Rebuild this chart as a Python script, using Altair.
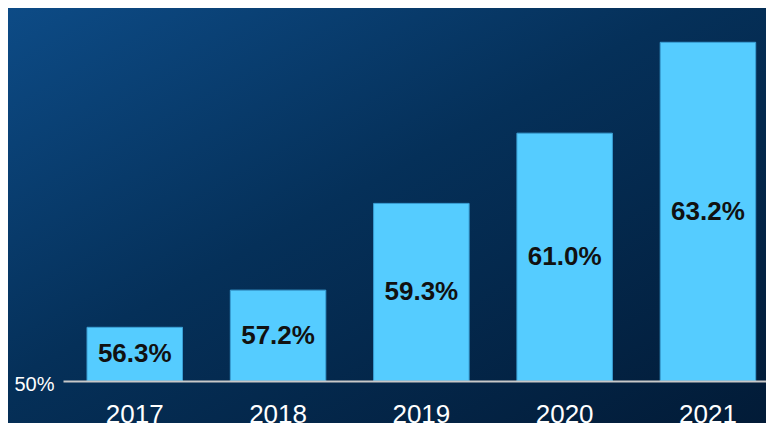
import altair as alt
import pandas as pd

# ---- data ----
years = ["2017", "2018", "2019", "2020", "2021"]
shares = [56.3, 57.2, 59.3, 61.0, 63.2]
y_floor = 55.0          # where the bars start (axis baseline)
y_ceiling = 64.03       # top of the plot area
y_floor_label = "50%"   # text printed at the baseline

df = pd.DataFrame({"year": years, "share": shares})

W, H = 703, 373
PAD = {"left": 55, "top": 0, "right": 0, "bottom": 42}
FONT = "Liberation Sans"

x_scale = alt.Scale(domain=years, paddingInner=0.3336, paddingOuter=0.1197, align=0.70)
y_scale = alt.Scale(domain=[y_floor, y_ceiling], zero=False, nice=False)

gradient = alt.LinearGradient(
    gradient="linear",
    stops=[
        alt.GradientStop(color="#0d4b86", offset=0),
        alt.GradientStop(color="#053059", offset=0.45),
        alt.GradientStop(color="#021b37", offset=1),
    ],
    x1=0, y1=0, x2=1, y2=1,
)

bg = alt.Chart(pd.DataFrame({"k": [0]})).mark_rect(fill=gradient).encode(
    x=alt.value(-PAD["left"]), x2=alt.value(W + PAD["right"]),
    y=alt.value(-PAD["top"]), y2=alt.value(H + PAD["bottom"]),
)

base = alt.Chart(df)

bars = base.mark_bar(color="#55ccff", stroke="#3a9fd4", strokeWidth=1).encode(
    x=alt.X("year:N", scale=x_scale, sort=years,
            axis=alt.Axis(title=None, labelAngle=0, labelFontSize=26, labelColor="white",
                          labelFont=FONT, ticks=False, tickSize=0, labelPadding=20,
                          domainColor="#c8c8c8", domainWidth=2, grid=False, zindex=1)),
    y=alt.Y("share:Q", scale=y_scale,
            axis=alt.Axis(title=None, values=[y_floor], labelExpr=f"'{y_floor_label}'",
                          labelFontSize=20, labelColor="white", labelFont=FONT,
                          domain=False, ticks=False, tickSize=0, grid=False,
                          labelPadding=9, labelOffset=3, zindex=1)),
    y2=alt.datum(y_floor),
)

labels = base.transform_calculate(
    mid=f"(datum.share + {y_floor}) / 2",
    label="format(datum.share, '.1f') + '%'",
).mark_text(font=FONT, fontSize=26, fontWeight="bold", color="#111111",
            baseline="middle", align="center").encode(
    x=alt.X("year:N", scale=x_scale, sort=years),
    y=alt.Y("mid:Q", scale=y_scale),
    text="label:N",
)

chart = alt.layer(bg, bars, labels).properties(
    width=W, height=H,
    autosize=alt.AutoSizeParams(type="none"),
    padding=PAD,
).configure(background="#032548").configure_view(stroke=None)

chart.save("out.html", embed_options={"renderer": "svg", "actions": False})
